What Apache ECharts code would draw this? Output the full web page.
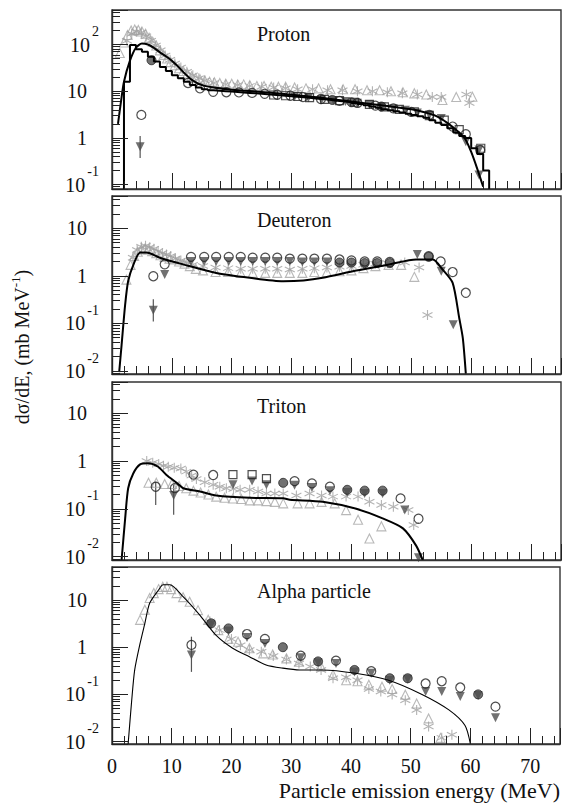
<!DOCTYPE html>
<html><head><meta charset="utf-8">
<script src="https://cdn.jsdelivr.net/npm/echarts@6/dist/echarts.min.js"></script>
<style>html,body{margin:0;padding:0;background:#fff}#c{width:563px;height:811px}</style>
</head><body><div id="c"></div>
<script>
// ---------- x axis ----------
const xTickLabels = [0, 10, 20, 30, 40, 50, 60, 70];
const panelNames = ['Proton', 'Deuteron', 'Triton', 'Alpha particle'];

// ---------- Proton ----------
const protonTheory = [[1.0,2.0],[1.5,6],[2,16],[3,45],[4,85],[5,105],[6,100],[7,85],[8,68],[9,56],[10,45],[11,34],[12,25],[13,19],[14,15.5],[15,13.5],[17,12],[20,10.8],[25,9.6],[30,8.4],[35,7.2],[40,6.0],[45,5.0],[50,4.1],[52,3.6],[54,3.0],[56,2.1],[58,1.3],[59,0.95],[60,0.5],[61,0.22],[62,0.09]];
const protonHist = [[2,0.01],[2,16],[3,97],[4,79],[5,70],[6,55],[7,43],[8,33],[9,27],[10,22],[11,19],[12,16],[13,13.5],[14,12],[15,11],[16,10.5],[17,10.2],[18,10],[19,9.8],[20,9.6],[21,9.4],[22,9.2],[23,9],[24,8.8],[25,8.6],[26,8.4],[27,8.2],[28,8],[29,7.8],[30,7.6],[31,7.4],[32,7.2],[33,7],[34,6.8],[35,6.6],[36,6.4],[37,6.2],[38,6.0],[39,5.8],[40,5.6],[41,5.3],[42,5.0],[43,4.7],[44,4.4],[45,4.1],[46,3.9],[47,3.7],[48,3.5],[49,3.3],[50,3.1],[51,2.9],[52,2.7],[53,2.4],[54,2.1],[55,1.9],[56,1.6],[57,1.3],[58,1.1],[59,1.0],[60,0.6],[61,0.45],[62,0.2],[63,0.2],[63,0.01]];
const protonTri = [[1.3,66],[2,110],[2.6,160],[3.2,200],[3.8,210],[4.4,205],[5,190],[5.6,170],[6.2,140],[6.8,115],[7.4,95],[8,75],[8.6,60],[9.2,50],[9.8,42],[10.5,36],[11.2,31],[11.9,27],[12.6,24],[13.3,21],[14,19],[14.7,18],[15.5,17],[16.3,16],[17.1,15.5],[18,15],[19,14.5],[20,14.5],[21,14],[22,14],[23,13.5],[24.2,13],[25.4,13],[26.6,12.5],[27.8,12.5],[29,12.5],[30.5,12],[32.4,11.5],[34.5,11.5],[36.5,11],[38.6,11],[40.6,11],[42.6,10.5],[44.7,10.5],[46.6,10],[48.6,9.5],[50.5,9],[52.5,8.5],[55.2,6.5],[57.5,7.5],[60.2,7.6]];
const protonStar = [[2.5,120],[3.3,170],[4.1,190],[4.9,180],[5.7,150],[6.5,120],[7.3,95],[8.1,75],[8.9,58],[9.7,47],[10.5,39],[11.5,32],[12.5,26],[13.5,22],[14.5,19],[15.5,17],[17,15],[19,14],[21,13.5],[23,13],[25,12.5],[27,12],[29,11.5],[31,11],[33.5,11],[36,10.5],[38.5,10.5],[41,10],[43.5,10],[46,9.5],[48.5,9],[51,8.5],[53.5,7.5],[55,7.5],[59.2,8.5],[59.7,5.6]];
const protonDarkTri = [[4.7,0.65],[30.5,7.6],[32.8,7.2],[35,6.6],[37,6.3],[39,6],[41,5.5],[43,5.1],[45,4.6],[47,4.2],[49,3.9],[51,3.4],[53,3.1],[55,2.6],[59.1,0.83],[61.3,0.55],[61.3,0.16]];
const protonOpenCirc = [[4.9,3.1],[12.7,15],[14.7,11.5],[16.9,9.7],[19.1,9.5],[21.2,9.4],[23.4,9.2],[25.5,8.8],[27.6,8.4],[29.8,8],[31.9,7.5],[34.9,6.8],[38,6.2],[41,5.6],[44,4.9],[47,4.3],[50,3.6],[53,3.1],[56.9,1.75],[59.1,1.2],[61.5,0.55]];
const protonDarkCirc = [[6.6,46],[36.8,6.5],[40,5.8],[45,4.7]];
const protonOpenSq = [[27,8.3],[29,8],[31,7.7],[33,7.3],[35.5,6.7],[38,6.3],[40.5,5.8],[43,5.2],[45.5,4.6],[48,4.1],[50.5,3.6],[53,3.0],[55.5,2.4],[58,1.5],[61.6,0.6]];
const protonErr = [[4.7,0.37,1.1]];

// ---------- Deuteron ----------
const deutTheory = [[1.2,0.0095],[1.6,0.035],[2.2,0.25],[2.7,0.78],[3.6,1.74],[4.7,3.1],[5.8,3.1],[8,2.4],[11.9,1.74],[17.4,1.15],[23,0.91],[28.6,0.77],[32,0.8],[35.2,0.91],[40.8,1.29],[46.3,1.73],[50.8,2.2],[53.6,2.2],[55.2,1.36],[56.9,0.71],[58,0.13],[58.6,0.049],[59.1,0.0088]];
const deutTri = [[2.4,0.83],[3.1,1.7],[3.7,2.6],[4.3,3.2],[4.9,3.6],[5.5,3.7],[6.1,3.6],[6.7,3.3],[7.4,3.0],[8.1,2.7],[8.8,2.5],[9.6,2.3],[10.4,2.2],[11.2,2.0],[12.1,1.8],[13,1.6],[14,1.4],[15.2,1.3],[17.3,1.2],[19.4,1.2],[21.5,1.15],[23.5,1.15],[25.6,1.15],[27.6,1.15],[29.7,1.15],[31.8,1.15],[33.8,1.2],[35.9,1.2],[38,1.25],[40,1.3],[42,1.45],[44,1.6],[46.2,1.7],[48.3,1.7],[50.5,0.95]];
const deutStar = [[3.5,2.4],[4.2,3.5],[4.9,4.1],[5.6,4.3],[6.3,4],[7,3.7],[7.7,3.3],[8.4,3],[9.1,2.8],[9.8,2.6],[10.6,2.3],[11.5,2.1],[12.5,1.9],[13.5,1.7],[15.2,1.6],[17.3,1.5],[19.4,1.45],[21.5,1.4],[23.5,1.4],[25.6,1.4],[27.6,1.4],[29.7,1.35],[31.8,1.4],[33.8,1.45],[35.9,1.5],[38,1.55],[40,1.6],[42,1.7],[44,1.8],[46,1.85],[48.9,1.9],[51.3,1.5],[52.7,0.15]];
const deutDarkTri = [[6.9,0.19],[8.8,1.07],[13.2,2.0],[15.4,2.0],[17.4,2.0],[19.5,2.0],[21.5,2.0],[23.5,2.0],[25.6,2.0],[27.6,2.0],[29.7,2.0],[31.8,1.95],[33.8,1.95],[35.9,1.95],[51,2.8],[55,1.25],[57,0.094]];
const deutOpenCirc = [[6.9,0.98],[8.8,1.74],[13.2,2.5],[15.4,2.5],[17.4,2.5],[19.5,2.5],[21.5,2.5],[23.5,2.4],[25.6,2.4],[27.6,2.4],[29.7,2.3],[31.8,2.3],[33.8,2.3],[35.9,2.3],[38,2.2],[40,2.1],[42.2,2.0],[44.3,2.0],[46.4,1.95],[52.9,2.6],[54.9,2.0],[56.9,1.2],[59.1,0.44]];
const deutDarkCirc = [[38,1.9],[40,1.9],[42.2,1.85],[44.3,1.85],[46.4,1.85],[52.9,2.5]];
const deutOpenSq = [];
const deutErr = [[6.9,0.11,0.32]];

// ---------- Triton ----------
const tritTheory = [[1.6,0.0085],[2.2,0.063],[2.7,0.27],[3.55,0.55],[4.7,0.85],[6,0.9],[7.7,0.76],[9.1,0.51],[10.8,0.35],[11.9,0.27],[14.7,0.23],[17.4,0.19],[23,0.17],[28.6,0.166],[29.7,0.155],[35.2,0.14],[40.8,0.10],[45.2,0.063],[48.6,0.039],[50.8,0.017],[51.9,0.0085]];
const tritTri = [[6.1,0.35],[7.4,0.35],[8.8,0.33],[10,0.33],[11.2,0.3],[12.4,0.27],[13.6,0.24],[14.8,0.22],[16.1,0.2],[17.4,0.18],[18.8,0.17],[20.2,0.165],[21.6,0.16],[23,0.15],[24.4,0.15],[25.8,0.145],[27.2,0.14],[28.6,0.13],[31,0.13],[33,0.13],[35,0.14],[37.2,0.13],[39.1,0.094],[41.1,0.059],[43,0.024],[45,0.043]];
const tritStar = [[5.8,1.0],[6.8,0.92],[7.8,0.87],[8.6,0.8],[9.4,0.76],[10.4,0.72],[11.5,0.7],[12.4,0.6],[13.3,0.5],[14.1,0.42],[15.5,0.36],[16.9,0.32],[18,0.29],[19.1,0.27],[20.3,0.26],[21.4,0.25],[23,0.25],[24.4,0.23],[25.8,0.21],[27.2,0.21],[28.6,0.21],[30.8,0.19],[33,0.21],[35,0.19],[36.9,0.18],[39.1,0.18],[41.1,0.18],[43,0.14],[45,0.12],[47,0.11],[49.5,0.095],[50.4,0.046]];
const tritDarkTri = [[10.3,0.19],[20.2,0.32],[23.4,0.38],[25.8,0.32],[30.5,0.31],[33.4,0.28],[36.4,0.24],[39.3,0.22],[42.2,0.21],[45.2,0.21],[48.9,0.095],[51.2,0.0095]];
const tritOpenCirc = [[7.3,0.29],[10.5,0.27],[13.6,0.52],[16.9,0.51],[30.5,0.38],[33.4,0.34],[36.4,0.29],[48.2,0.165],[51.2,0.062]];
const tritDarkCirc = [[28.6,0.35],[39.3,0.25],[42.2,0.24],[45.2,0.24]];
const tritOpenSq = [[20.2,0.52],[23.4,0.52],[25.8,0.43]];
const tritErr = [[7.3,0.12,0.37],[10.3,0.075,0.32]];

// ---------- Alpha particle ----------
const alphaTheory = [[2.7,0.0089],[3.3,0.075],[3.8,0.33],[4.7,1.2],[5.5,3.2],[6.3,8.5],[7.8,16.3],[8.55,21],[9.7,21],[11.9,11.8],[14.7,4.8],[17.4,1.8],[20.2,0.95],[23,0.63],[25.8,0.42],[28.6,0.36],[31.4,0.33],[35.2,0.33],[40.8,0.28],[46.3,0.2],[51.9,0.1],[56.4,0.047],[59.1,0.022],[60,0.0089]];
const alphaTri = [[4.7,3.8],[5.5,6.2],[6.3,11],[7,14],[7.8,17],[8.5,19],[9.2,19],[9.9,17],[10.8,14],[11.9,11.5],[13,9.2],[14.4,6.1],[16.1,3.8],[17.8,2.3],[19.5,1.5],[21.1,1.3],[23,0.95],[25.3,0.74],[26.9,0.7],[29.2,0.58],[31.3,0.49],[35,0.39],[37,0.26],[39.2,0.2],[41.1,0.19],[43,0.16],[45.2,0.145],[46.9,0.13],[49.1,0.098],[51,0.064],[53,0.031],[55,0.012]];
const alphaStar = [[16.4,3.5],[18,2.3],[20,1.5],[21.5,1.1],[23,0.87],[25,0.8],[27,0.65],[29.2,0.55],[31.3,0.45],[33.2,0.39],[35,0.33],[37,0.22],[39.2,0.23],[41.1,0.2],[43,0.13],[45,0.115],[46.9,0.1],[49.1,0.075],[51,0.047],[53,0.021],[55.2,0.012],[56.9,0.014]];
const alphaDarkTri = [[13.3,0.68],[16.6,3.0],[19.5,2.2],[22.6,1.6],[25.6,1.2],[31.6,0.6],[34.5,0.47],[37.5,0.45],[40.6,0.3],[43.4,0.28],[46.5,0.2],[49.5,0.21],[52.5,0.115],[55.2,0.115],[58.3,0.09],[61.3,0.095],[64.2,0.032]];
const alphaOpenCirc = [[13.3,1.12],[22.6,1.9],[25.6,1.5],[31.6,0.66],[37.5,0.52],[43.4,0.31],[52.5,0.17],[55.2,0.19],[58.3,0.14],[64.2,0.055]];
const alphaDarkCirc = [[16.6,3.2],[19.5,2.5],[28.6,1.0],[34.5,0.5],[40.6,0.33],[46.5,0.22],[49.5,0.22],[61.3,0.1]];
const alphaOpenSq = [];
const alphaErr = [[13.3,0.3,1.67]];

// ---------- layout ----------
const SERIF = 'Liberation Serif';
const GRID_LEFT = 112, GRID_W = 449;
const panels = [
  {name: panelNames[0], top: 10, h: 179, min: 0.0805, max: 548, theory: protonTheory, hist: protonHist, tri: protonTri, star: protonStar, dtri: protonDarkTri, ocirc: protonOpenCirc, dcirc: protonDarkCirc, osq: protonOpenSq, err: protonErr, lw: 2},
  {name: panelNames[1], top: 196, h: 178, min: 0.00865, max: 47.5, theory: deutTheory, tri: deutTri, star: deutStar, dtri: deutDarkTri, ocirc: deutOpenCirc, dcirc: deutDarkCirc, osq: deutOpenSq, err: deutErr, lw: 2},
  {name: panelNames[2], top: 382, h: 178, min: 0.0085, max: 45, theory: tritTheory, tri: tritTri, star: tritStar, dtri: tritDarkTri, ocirc: tritOpenCirc, dcirc: tritDarkCirc, osq: tritOpenSq, err: tritErr, lw: 2},
  {name: panelNames[3], top: 567, h: 177, min: 0.0089, max: 50, theory: alphaTheory, tri: alphaTri, star: alphaStar, dtri: alphaDarkTri, ocirc: alphaOpenCirc, dcirc: alphaDarkCirc, osq: alphaOpenSq, err: alphaErr, lw: 1.1}
];

const richLab = {
  b: {fontFamily: SERIF, fontSize: 20, color: '#111', lineHeight: 20},
  s: {fontFamily: SERIF, fontSize: 14, color: '#111', lineHeight: 14, padding: [0, 0, 26, 2]},
  p: {width: 12}
};
function yLabel(v) {
  const e = Math.round(Math.log10(v));
  if (Math.abs(Math.log10(v) - e) > 1e-6) return '';
  if (e === 0) return '{b|1}{p|}';
  if (e === 1) return '{b|10}{p|}';
  return '{b|10}{s|' + e + '}';
}

const grids = [], xAxes = [], yAxes = [], series = [], titles = [];
const AX = '#333';
const N = panels.length;
panels.forEach((p, i) => {
  grids.push({left: GRID_LEFT, width: GRID_W, top: p.top, height: p.h, show: true, borderColor: AX, borderWidth: 1.4});
  xAxes.push({
    type: 'value', gridIndex: i, min: 0, max: 75, interval: 10, z: 4,
    axisLine: {show: true, lineStyle: {color: AX, width: 1.4}},
    axisTick: {show: true, inside: true, length: 16, lineStyle: {color: '#222', width: 1}},
    minorTick: {show: true, splitNumber: 5, length: 8, lineStyle: {color: '#222', width: 1}},
    splitLine: {show: false},
    axisLabel: {show: i === 3, fontFamily: SERIF, fontSize: 20, color: '#111', margin: 12,
      formatter: v => (xTickLabels.indexOf(v) >= 0 ? String(v) : '')}
  });
  // axis carrying the ticks (major decades + log minor ticks); series use it
  yAxes.push({
    type: 'log', logBase: 10, gridIndex: i, position: 'left', min: p.min, max: p.max, z: 4,
    axisLine: {show: true, lineStyle: {color: AX, width: 1.4}},
    axisTick: {show: true, inside: true, length: 16, lineStyle: {color: '#222', width: 1}},
    minorTick: {show: true, splitNumber: 9, length: 8, lineStyle: {color: '#222', width: 1}},
    splitLine: {show: false},
    axisLabel: {show: false}
  });
  const sc = (data, opts) => Object.assign({type: 'scatter', xAxisIndex: i, yAxisIndex: i, data: data}, opts);
  series.push(sc(p.tri, {symbol: 'triangle', symbolSize: 9, itemStyle: {color: 'rgba(0,0,0,0)', borderColor: '#a6a6a6', borderWidth: 1.1}}));
  series.push(sc(p.star, {symbol: 'path://M5,0L5,10M0.67,2.5L9.33,7.5M0.67,7.5L9.33,2.5', symbolSize: 10, itemStyle: {color: 'rgba(0,0,0,0)', borderColor: '#a0a0a0', borderWidth: 1.1}}));
  if (p.hist) series.push({type: 'line', xAxisIndex: i, yAxisIndex: i, data: p.hist, step: 'end', symbol: 'none', lineStyle: {color: '#000', width: 2}});
  series.push({type: 'line', xAxisIndex: i, yAxisIndex: i, data: p.theory, smooth: 0.25, symbol: 'none', lineStyle: {color: '#000', width: p.lw}});
  series.push({type: 'custom', xAxisIndex: i, yAxisIndex: i, data: p.err,
    encode: {x: 0, y: [1, 2]},
    renderItem: (params, api) => {
      const a = api.coord([api.value(0), api.value(1)]);
      const b = api.coord([api.value(0), api.value(2)]);
      return {type: 'line', shape: {x1: a[0], y1: a[1], x2: b[0], y2: b[1]}, style: {stroke: '#555', lineWidth: 1.2}};
    }});
  series.push(sc(p.dtri, {symbol: 'triangle', symbolRotate: 180, symbolSize: 9, itemStyle: {color: '#4d4d4d'}}));
  series.push(sc(p.dcirc, {symbol: 'circle', symbolSize: 9, itemStyle: {color: '#4d4d4d', borderColor: '#222', borderWidth: 1}}));
  series.push(sc(p.ocirc, {symbol: 'circle', symbolSize: 9, itemStyle: {color: 'rgba(255,255,255,0)', borderColor: '#222', borderWidth: 1.2}}));
  series.push(sc(p.osq, {symbol: 'rect', symbolSize: 8, itemStyle: {color: 'rgba(255,255,255,0)', borderColor: '#222', borderWidth: 1.2}}));
  titles.push({text: p.name, left: 257, top: p.top + 14, padding: 0, textStyle: {fontFamily: SERIF, fontSize: 20, fontWeight: 'normal', color: '#111'}});
});
// separate, frameless grids on the same rectangles that carry only the decade labels
panels.forEach((p, i) => {
  grids.push({left: GRID_LEFT, width: GRID_W, top: p.top, height: p.h, show: false});
  xAxes.push({type: 'value', gridIndex: N + i, min: 0, max: 75, show: false});
  yAxes.push({
    type: 'log', logBase: 10, gridIndex: N + i, position: 'left', min: p.min, max: p.max,
    axisLine: {show: false}, axisTick: {show: false}, minorTick: {show: false}, splitLine: {show: false},
    axisLabel: {show: true, margin: 13, align: 'right', formatter: yLabel, rich: richLab}
  });
});

// SVG renderer: every tick is its own element (no batched canvas paths)
const chart = echarts.init(document.getElementById('c'), null, {renderer: 'svg'});
chart.setOption({
  animation: false,
  backgroundColor: '#fff',
  title: titles,
  grid: grids, xAxis: xAxes, yAxis: yAxes, series: series,
  graphic: [
    {type: 'text', x: 22, y: 347, rotation: Math.PI / 2, z: 10,
      style: {text: 'dσ/dE, (mb MeV{s|-1})', fontFamily: SERIF, fontSize: 20, fill: '#111', align: 'center', verticalAlign: 'middle',
        rich: {s: {fontFamily: SERIF, fontSize: 13, fill: '#111', padding: [0, 0, 14, 0]}}}},
    {type: 'text', x: 560, y: 790, z: 10,
      style: {text: 'Particle emission energy (MeV)', fontFamily: SERIF, fontSize: 22, fill: '#111', align: 'right', verticalAlign: 'middle'}}
  ]
});
</script></body></html>
